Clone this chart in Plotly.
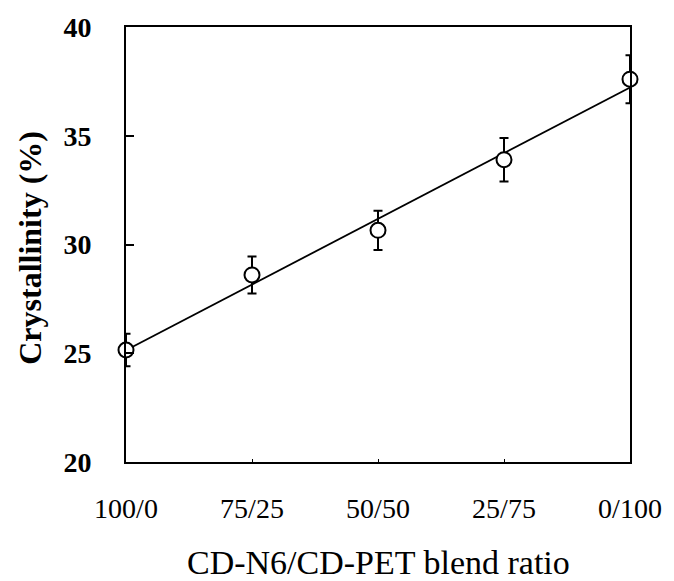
import numpy as np
import plotly.graph_objects as go

categories = ["100/0", "75/25", "50/50", "25/75", "0/100"]
crystallinity = [25.15, 28.6, 30.65, 33.9, 37.6]
error = [0.75, 0.85, 0.9, 1.0, 1.1]
y_ticks = [20, 25, 30, 35, 40]

x = np.arange(len(categories))
slope, intercept = np.polyfit(x, crystallinity, 1)
fit_x = [x[0], x[-1]]
fit_y = [intercept + slope * v for v in fit_x]

fig = go.Figure()
fig.add_trace(go.Scatter(
    x=fit_x, y=fit_y, mode="lines",
    line=dict(color="black", width=1.8),
    showlegend=False, hoverinfo="skip", cliponaxis=False,
))
fig.add_trace(go.Scatter(
    x=x, y=crystallinity, mode="markers",
    marker=dict(symbol="circle", size=15, color="white",
                line=dict(color="black", width=2)),
    error_y=dict(type="data", array=error, visible=True,
                 color="black", thickness=2, width=4.5),
    showlegend=False, cliponaxis=False,
))

fig.update_layout(
    width=674, height=581,
    margin=dict(l=126, r=37, t=24, b=119),
    paper_bgcolor="white", plot_bgcolor="white",
    font=dict(family="Liberation Serif", color="black"),
    xaxis=dict(
        range=[0, 4], tickvals=list(x), ticktext=categories,
        showline=True, mirror=True, linecolor="black", linewidth=2,
        ticks="inside", ticklen=3, tickwidth=1, tickcolor="black",
        showgrid=False, zeroline=False,
        tickfont=dict(family="Liberation Serif", size=28, color="black"),
        ticklabelstandoff=20,
    ),
    yaxis=dict(
        range=[20, 40], tickvals=y_ticks,
        showline=True, mirror=True, linecolor="black", linewidth=2,
        ticks="inside", ticklen=8, tickwidth=1.5, tickcolor="black",
        showgrid=False, zeroline=False,
        tickfont=dict(family="Liberation Serif", size=28, color="black", weight="bold"),
        ticklabelstandoff=27,
    ),
    annotations=[
        dict(text="CD-N6/CD-PET blend ratio", xref="paper", yref="paper",
             x=0.5, y=-0.232, xanchor="center", yanchor="middle", showarrow=False,
             font=dict(family="Liberation Serif", size=34, color="black")),
        dict(text="Crystallinity (%)", xref="paper", yref="paper",
             x=-0.192, y=0.493, xanchor="center", yanchor="middle", showarrow=False,
             textangle=-90,
             font=dict(family="Liberation Serif", size=32, color="black", weight="bold")),
    ],
)

fig.write_html("out.html")
